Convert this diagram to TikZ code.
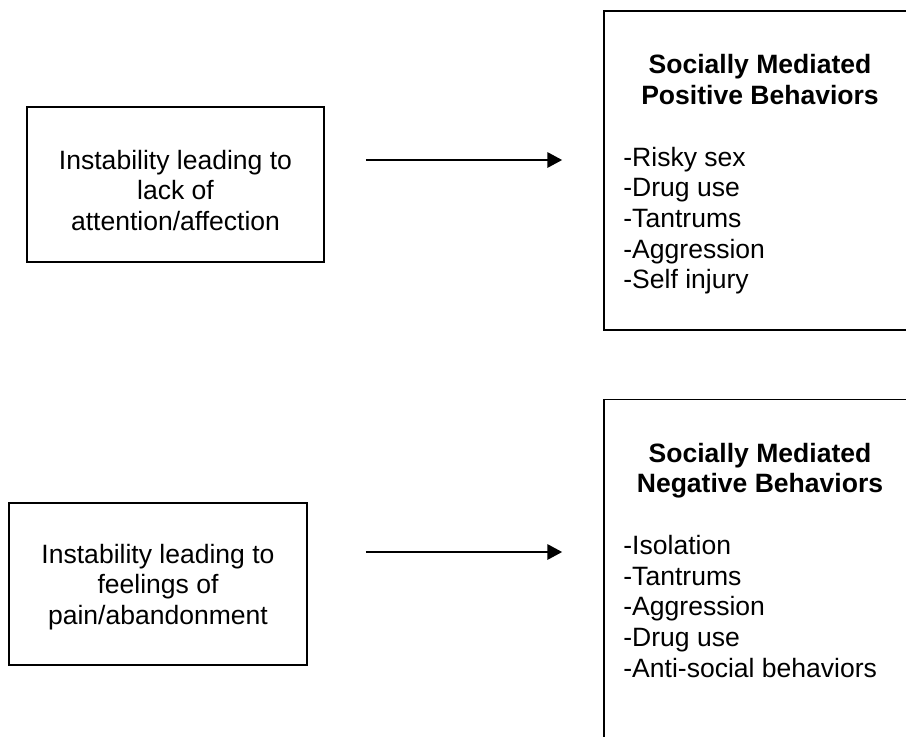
\documentclass[tikz,border=0pt]{standalone}
\usepackage{fontspec}
\setmainfont{Liberation Sans}
\usetikzlibrary{arrows.meta,positioning}
\definecolor{boxline}{HTML}{000000}
\tikzset{
  causebox/.style={
    rectangle, draw=boxline, line width=1.3pt,
    minimum width=222.75pt, minimum height=116.25pt, inner sep=0pt
  },
  behavbox/.style={
    rectangle, draw=boxline, line width=1.3pt,
    minimum width=234pt, inner sep=0pt
  },
  bodytext/.style={font=\fontsize{19.9pt}{22.9pt}\selectfont, inner sep=0pt},
  causetext/.style={bodytext, align=center},
  titletext/.style={bodytext, align=center, font=\fontsize{19.9pt}{22.9pt}\selectfont\bfseries},
  listtext/.style={bodytext, align=left},
  flowarrow/.style={-{Triangle[length=11pt,width=11.5pt]}, line width=1.3pt, color=boxline},
}
\begin{document}
\begin{tikzpicture}[x=0.75pt, y=-0.75pt]
  \useasboundingbox (0,0) rectangle (906,736);

  % upper row
  \node[causebox] (lackbox) at (175.5,184.5) {};
  \node[causetext, yshift=-4.5pt] (lacktext) at (lackbox) {Instability leading to\\lack of\\attention/affection};
  \node[behavbox, minimum height=239.25pt] (posbox) at (760,170.5) {};
  \node[titletext, below=33pt of posbox.north] (postitle) {Socially Mediated\\Positive Behaviors};
  \node[listtext, below right=102.6pt and 15pt of posbox.north west] (poslist) {-Risky sex\\-Drug use\\-Tantrums\\-Aggression\\-Self injury};

  % lower row
  \node[causebox, minimum width=223.5pt, minimum height=121.5pt] (painbox) at (158,584) {};
  \node[causetext, yshift=-2.25pt] (paintext) at (painbox) {Instability leading to\\feelings of\\pain/abandonment};
  \node[behavbox, minimum height=262.9pt] (negbox) at (760,574.75) {};
  \node[titletext, below=33pt of negbox.north] (negtitle) {Socially Mediated\\Negative Behaviors};
  \node[listtext, below right=102.6pt and 15pt of negbox.north west] (neglist) {-Isolation\\-Tantrums\\-Aggression\\-Drug use\\-Anti-social behaviors};

  \draw[flowarrow, shorten <=30.75pt, shorten >=30.75pt] (lackbox.east |- 0,160) -- (posbox.west |- 0,160);
  \draw[flowarrow, shorten <=43.5pt, shorten >=30.75pt] (painbox.east |- 0,552) -- (negbox.west |- 0,552);
\end{tikzpicture}
\end{document}
